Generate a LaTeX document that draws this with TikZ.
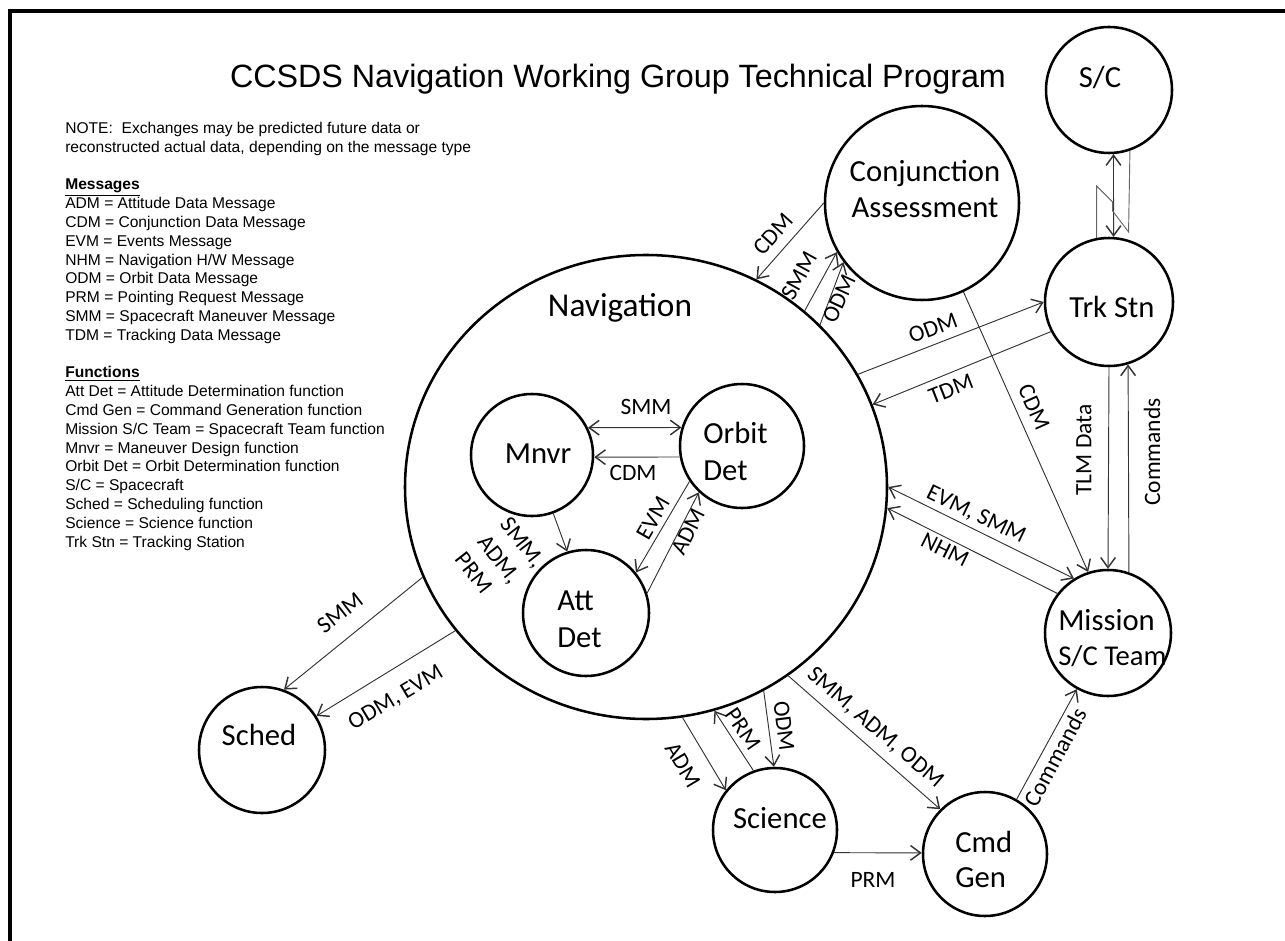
\documentclass[tikz,border=0pt]{standalone}
\usepackage{fontspec}
\setmainfont{Liberation Sans}
\newfontfamily\cf{Carlito}
\usetikzlibrary{arrows.meta,shapes.geometric}
\tikzset{
  >={Straight Barb[length=7.5pt,width=11pt,line width=1.1pt]},
  circ/.style={circle, draw=black, line width=1.9pt, inner sep=0pt, minimum size=#1},
  arr/.style={draw=black!80, line width=0.7pt, ->},
  darr/.style={draw=black!80, line width=0.7pt, <->},
  bolt/.style={draw=black!60, line width=0.7pt},
  ntxt/.style={font=\cf\fontsize{23}{27}\selectfont, inner sep=0pt, anchor=base},
  ntxtl/.style={ntxt, anchor=base west},
  elab/.style={font=\cf\fontsize{17.6}{21.5}\selectfont, inner sep=0pt},
  leg/.style={font=\fontsize{11.7}{14}\selectfont, inner sep=0pt, anchor=base west},
}
\begin{document}
\begin{tikzpicture}[x=0.75pt,y=-0.75pt]
\useasboundingbox (0,0) rectangle (1285,941);
\fill[white] (0,0) rectangle (1285,941);
\draw[line width=2.4pt] (1285,11) -- (10,11) -- (10,941);

% title
\node[font=\fontsize{24.2}{28}\selectfont, inner sep=0pt, anchor=base] (title) at (618,88) {CCSDS Navigation Working Group Technical Program};

% legend
\node[leg] (g0) at (65,133.5) {NOTE:\ \ Exchanges may be predicted future data or};
\node[leg] (g1) at (65,152.3) {reconstructed actual data, depending on the message type};
\node[leg] (g3) at (65,189.9) {\underline{\textbf{Messages}}};
\node[leg] (g4) at (65,208.7) {ADM = Attitude Data Message};
\node[leg] (g5) at (65,227.5) {CDM = Conjunction Data Message};
\node[leg] (g6) at (65,246.3) {EVM = Events Message};
\node[leg] (g7) at (65,265.1) {NHM = Navigation H/W Message};
\node[leg] (g8) at (65,283.9) {ODM = Orbit Data Message};
\node[leg] (g9) at (65,302.7) {PRM = Pointing Request Message};
\node[leg] (g10) at (65,321.5) {SMM = Spacecraft Maneuver Message};
\node[leg] (g11) at (65,340.3) {TDM = Tracking Data Message};
\node[leg] (g13) at (65,377.9) {\underline{\textbf{Functions}}};
\node[leg] (g14) at (65,396.7) {Att Det = Attitude Determination function};
\node[leg] (g15) at (65,415.5) {Cmd Gen = Command Generation function};
\node[leg] (g16) at (65,434.3) {Mission S/C Team = Spacecraft Team function};
\node[leg] (g17) at (65,453.1) {Mnvr = Maneuver Design function};
\node[leg] (g18) at (65,471.9) {Orbit Det = Orbit Determination function};
\node[leg] (g19) at (65,490.7) {S/C = Spacecraft};
\node[leg] (g20) at (65,509.5) {Sched = Scheduling function};
\node[leg] (g21) at (65,528.3) {Science = Science function};
\node[leg] (g22) at (65,547.1) {Trk Stn = Tracking Station};

% circles
\node[ellipse, draw=black, line width=1.9pt, inner sep=0pt, minimum width=361.5pt, minimum height=348pt] (nav) at (646,487) {};
\node[circ=94.5pt] (sc) at (1109,90) {};
\node[circ=96pt] (trk) at (1109,302) {};
\node[circ=145.5pt] (conj) at (922,203) {};
\node[circ=94.5pt] (mis) at (1108,633) {};
\node[circ=93pt] (cmd) at (985,854) {};
\node[circ=93pt] (sci) at (775,830) {};
\node[circ=94.5pt] (sched) at (262,750) {};
\node[circ=91.5pt] (mnvr) at (532,455) {};
\node[circ=93pt] (orb) at (742,446) {};
\node[circ=94.5pt] (att) at (586,613) {};

% circle texts
\node[ntxt] (sct) at (1100,88) {S/C};
\node[ntxt] (trkt) at (1112,318) {Trk Stn};
\node[ntxt] (conjt1) at (925,182) {Conjunction};
\node[ntxt] (conjt2) at (925,218) {Assessment};
\node[ntxt, font=\cf\fontsize{25}{29}\selectfont] (navt) at (620,316) {Navigation};
\node[ntxt] (mnvrt) at (538,463) {Mnvr};
\node[ntxtl] (orbt1) at (703,443) {Orbit};
\node[ntxtl] (orbt2) at (703,480) {Det};
\node[ntxtl] (attt1) at (557,610) {Att};
\node[ntxtl] (attt2) at (557,647) {Det};
\node[ntxtl] (mist1) at (1058,630) {Mission};
\node[ntxtl, font=\cf\fontsize{21.5}{26}\selectfont] (mist2) at (1058,665) {S/C Team};
\node[ntxtl] (cmdt1) at (955,852) {Cmd};
\node[ntxtl] (cmdt2) at (955,887) {Gen};
\node[ntxt] (scit) at (780,828) {Science};
\node[ntxt] (schedt) at (259,745) {Sched};

% connectors
\draw[arr] (conj.180) -- (nav.62);
\draw[arr] (nav.48) -- (conj.210);
\draw[arr] (nav.43.6) -- (conj.217.2);
\draw[arr] (nav.28.5) -- (trk.180);
\draw[arr] (trk.207.8) -- (nav.20.6);
\draw[arr] (conj.-65.5) -- (mis.108.4);
\draw[arr] (trk.-90.9) -- (mis.90);
\draw[arr] (mis.71.8) -- (trk.-73.7);
\draw[darr] (nav.-0.7) -- (mis.122.5);
\draw[arr] (mis.142.3) -- (nav.-5.4);
\draw[arr] (cmd.60) -- (mis.-119.9);
\draw[arr] (nav.-53.6) -- (cmd.135.6);
\draw[arr] (nav.-60) -- (sci.91.8);
\draw[arr] (sci.110) -- (nav.-73.5);
\draw[arr] (nav.-81.6) -- (sci.141.6);
\draw[arr] (sci.-21.8) -- (cmd.179);
\draw[arr] (nav.202.7) -- (sched.70.5);
\draw[arr] (nav.217.1) -- (sched.32.5);
\draw[darr] (mnvr.26.6) -- (orb.163.5);
\draw[arr] (orb.190) -- (mnvr.-2);
\draw[arr] (mnvr.-70.5) -- (att.107.9);
\draw[arr] (orb.214.4) -- (att.39.6);
\draw[arr] (att.18.7) -- (orb.-133.7);
\draw[darr] (sc.-86.4) -- (trk.86.4);
\draw[bolt] (trk.101) -- ++(0,-52) -- ++(16,16) -- ++(0,9) -- ++(16,21) -- (sc.-71.5);

% connector labels
\node[elab, rotate=48] (e1) at (773,234) {CDM};
\node[elab, rotate=61] (e2) at (799,276) {SMM};
\node[elab, rotate=65] (e3) at (839,299) {ODM};
\node[elab, rotate=20.5] (e4) at (933,328) {ODM};
\node[elab, rotate=21.3] (e5) at (951,389) {TDM};
\node[elab, rotate=-66] (e6) at (1034,407) {CDM};
\node[elab, rotate=90] (e7) at (1084,450) {TLM Data};
\node[elab, rotate=90] (e8) at (1152,452) {Commands};
\node[elab, rotate=-25.7] (e9) at (976,515) {EVM, SMM};
\node[elab, rotate=-26.4] (e10) at (945,550) {NHM};
\node[elab, rotate=61.8] (e11) at (1055,757) {Commands};
\node[elab, rotate=-40.7] (e12) at (875,728) {SMM, ADM, ODM};
\node[elab, rotate=-82.7] (e13) at (784,726) {ODM};
\node[elab, rotate=-55.7] (e14) at (743,729) {PRM};
\node[elab, rotate=-59] (e15) at (683,765) {ADM};
\node[elab] (e16) at (873,880) {PRM};
\node[elab, rotate=37.7] (e17) at (340,613) {SMM};
\node[elab, rotate=31] (e18) at (396,698) {ODM, EVM};
\node[elab] (e19) at (646,407) {SMM};
\node[elab] (e20) at (633,473) {CDM};
\node[elab, rotate=-52, align=left] (e21) at (500,560) {SMM,\\ADM,\\PRM};
\node[elab, rotate=60] (e22) at (653,518) {EVM};
\node[elab, rotate=63.4] (e23) at (688,532) {ADM};
\end{tikzpicture}
\end{document}
